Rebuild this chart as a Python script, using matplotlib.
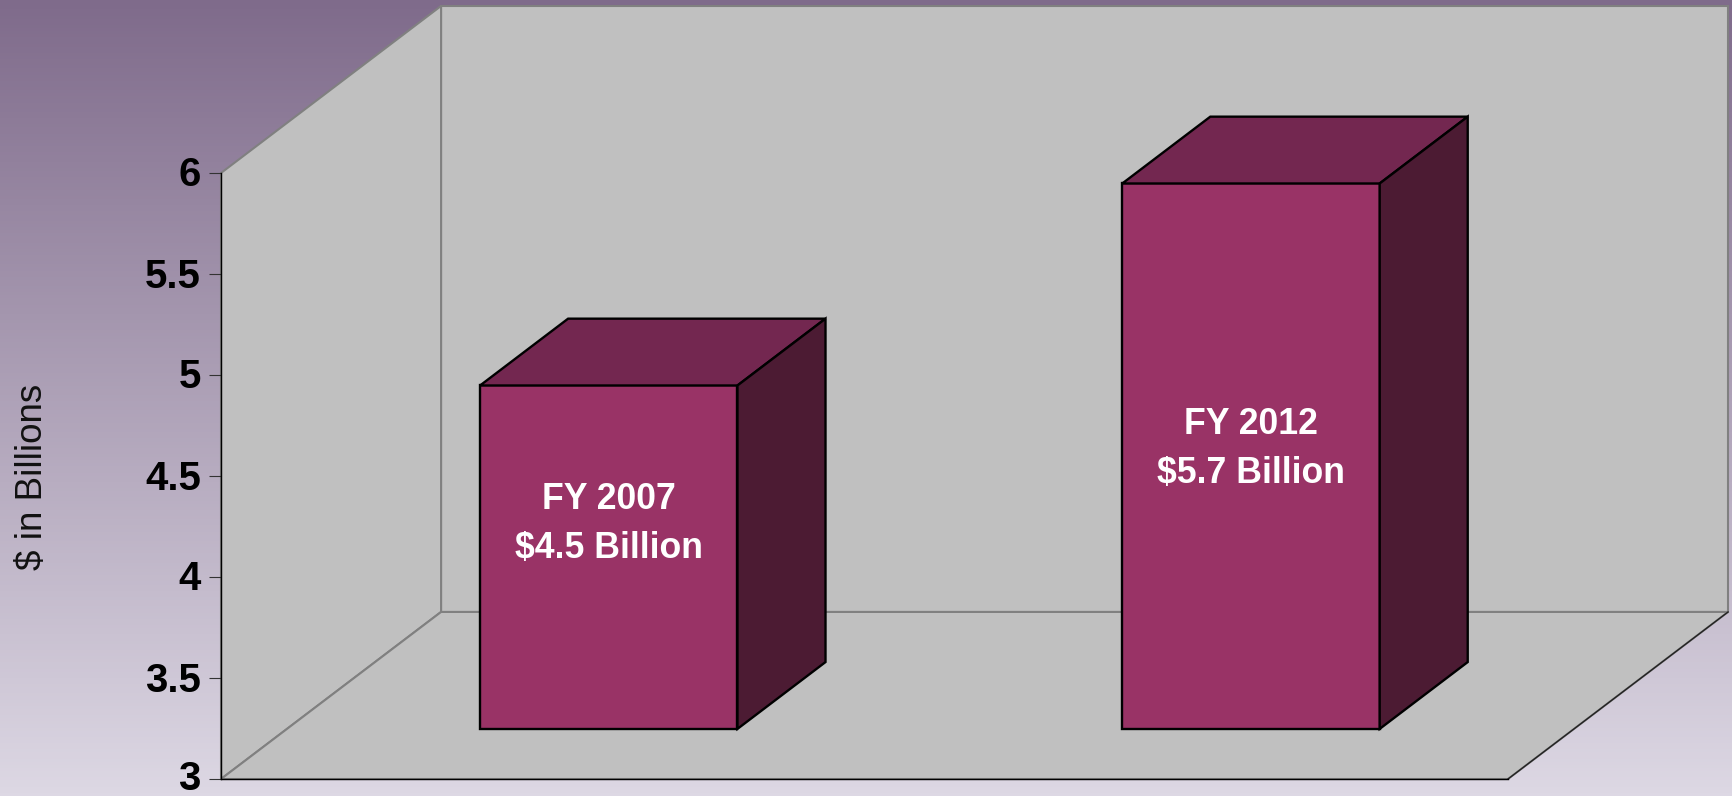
import numpy as np
import matplotlib
matplotlib.use('Agg')
import matplotlib.pyplot as plt
from matplotlib.transforms import ScaledTranslation

categories = ['FY 2007', 'FY 2012']
values = [4.7, 5.7]
bar_labels = ['FY 2007\n$4.5 Billion', 'FY 2012\n$5.7 Billion']
label_heights = [4.015, 4.385]
y_ticks = [3, 3.5, 4, 4.5, 5, 5.5, 6]
y_tick_labels = ['3', '3.5', '4', '4.5', '5', '5.5', '6']

# colours
FRONT = '#993366'
TOP = '#732750'
SIDE = '#4C1B33'
WALL = '#C0C0C0'
GRID = '#808080'

# how far the back of the 3d box is shifted, in data units
DEPTH_X = 0.342
DEPTH_Y = 0.827
BAR_WIDTH = 0.4
BAR_D0, BAR_D1 = 0.3, 0.7

plt.rcParams['font.family'] = ['Liberation Sans', 'DejaVu Sans']


def project(x, v, d):
    return x + d * DEPTH_X, v + d * DEPTH_Y


def face(ax, corners, color, edge, lw, z):
    pts = [project(*c) for c in corners]
    ax.fill([p[0] for p in pts], [p[1] for p in pts], facecolor=color,
            edgecolor=edge, linewidth=lw, clip_on=False, zorder=z, joinstyle='miter')


def draw_bar(ax, x, v, z):
    x0, x1 = x - BAR_WIDTH / 2, x + BAR_WIDTH / 2
    d0, d1 = BAR_D0, BAR_D1
    face(ax, [(x0, 3, d0), (x1, 3, d0), (x1, v, d0), (x0, v, d0)], FRONT, 'black', 1.7, z)
    face(ax, [(x0, v, d0), (x1, v, d0), (x1, v, d1), (x0, v, d1)], TOP, 'black', 1.7, z)
    face(ax, [(x1, 3, d0), (x1, 3, d1), (x1, v, d1), (x1, v, d0)], SIDE, 'black', 1.7, z)


W, H = 1732, 796
fig = plt.figure(figsize=(W / 100, H / 100), dpi=100)

# background gradient
bg = fig.add_axes([0, 0, 1, 1], zorder=0)
grad = np.linspace(0, 1, 256).reshape(-1, 1)
top_col = np.array([0x7F, 0x6B, 0x8B]) / 255
bottom_col = np.array([0xDD, 0xD8, 0xE4]) / 255
bg.imshow(top_col + grad[..., None] * (bottom_col - top_col), aspect='auto')
bg.axis('off')

ax = fig.add_axes([221 / W, 1 - 779 / H, 1287 / W, 606 / H], zorder=1)
ax.patch.set_alpha(0)
ax.set_xlim(0, 2)
ax.set_ylim(3, 6)

# walls and floor
face(ax, [(0, 3, 1), (2, 3, 1), (2, 6, 1), (0, 6, 1)], WALL, GRID, 1.5, 1)
face(ax, [(0, 3, 0), (0, 3, 1), (0, 6, 1), (0, 6, 0)], WALL, GRID, 1.5, 1)
face(ax, [(0, 3, 0), (2, 3, 0), (2, 3, 1), (0, 3, 1)], WALL, GRID, 1.5, 1.5)
p0 = project(2, 3, 0)
p1 = project(2, 3, 1)
ax.plot([p0[0], p1[0]], [p0[1], p1[1]], color='#222222', lw=1, clip_on=False, zorder=2)

for i in range(len(values)):
    draw_bar(ax, i + 0.5 - 0.002 * i, values[i], 3)
    tx, ty = project(i + 0.5 - 0.002 * i, label_heights[i], BAR_D0)
    ax.text(tx, ty, bar_labels[i], color='white', fontsize=25.7, fontweight='bold',
            ha='center', va='center', linespacing=1.53, zorder=5, parse_math=False)

ax.set_xticks([])
ax.set_yticks(y_ticks)
ax.set_yticklabels(y_tick_labels, fontsize=29, fontweight='bold', color='black', va='center')
ax.tick_params(axis='y', length=8.5, width=0.8, color='#333333', pad=6)
# nudge the tick labels down so they sit level with the ticks, the bottom one has no room
nudge = ScaledTranslation(0, -2.5 / 100, fig.dpi_scale_trans)
for lab in ax.get_yticklabels()[1:]:
    lab.set_transform(lab.get_transform() + nudge)
for s in ['top', 'right']:
    ax.spines[s].set_visible(False)
for s in ['left', 'bottom']:
    ax.spines[s].set_color('black')
    ax.spines[s].set_linewidth(1)
    ax.spines[s].set_zorder(4)

fig.text(33 / W, 1 - 477 / H, '$ in Billions', rotation=90, fontsize=26.5,
         ha='center', va='center', color='#111111', zorder=5, parse_math=False)

fig.savefig('out.png', dpi=100)
